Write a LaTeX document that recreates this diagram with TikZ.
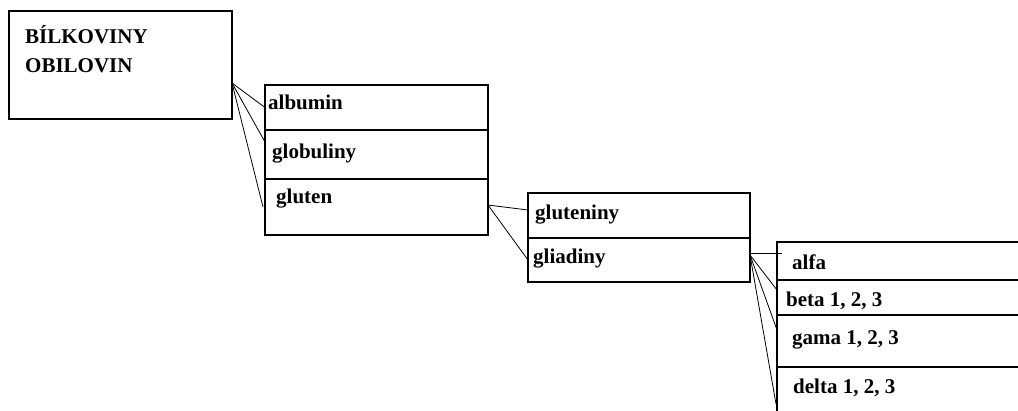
\documentclass[tikz,border=0pt]{standalone}
\usepackage{fontspec}
\setmainfont{Liberation Serif}
\begin{document}
\begin{tikzpicture}[x=1pt,y=-1pt,
  box/.style={draw, line width=1.3pt, inner sep=0pt, outer sep=0pt, anchor=north west},
  lbl/.style={anchor=base west, inner sep=0pt, font=\fontsize{21}{25}\selectfont\bfseries},
  link/.style={line width=0.8pt}]
\useasboundingbox[fill=white] (0,0) rectangle (1018,410);
\clip (0,0) rectangle (1018,410);
% root box
\node[box, minimum width=223pt, minimum height=108pt] (root) at (9,11) {};
\node[lbl] (t1) at (25,43) {BÍLKOVINY};
\node[lbl] (t2) at (25,72) {OBILOVIN};
% second box
\node[box, minimum width=223pt, minimum height=45pt] (alb) at (265,85) {};
\node[box, minimum width=223pt, minimum height=49pt] (glob) at (265,130) {};
\node[box, minimum width=223pt, minimum height=56pt] (glut) at (265,179) {};
\node[lbl] (talb) at (268,109) {albumin};
\node[lbl] (tglob) at (272,158) {globuliny};
\node[lbl] (tglut) at (276,203) {gluten};
% third box
\node[box, minimum width=222pt, minimum height=45pt] (glutn) at (528,193) {};
\node[box, minimum width=222pt, minimum height=44pt] (glia) at (528,238) {};
\node[lbl] (tglutn) at (535,219) {gluteniny};
\node[lbl] (tglia) at (533,263) {gliadiny};
% fourth box
\node[box, minimum width=300pt, minimum height=38pt] (alfa) at (777,242) {};
\node[box, minimum width=300pt, minimum height=35pt] (beta) at (777,280) {};
\node[box, minimum width=300pt, minimum height=52pt] (gama) at (777,315) {};
\node[box, minimum width=300pt, minimum height=80pt] (delta) at (777,367) {};
\node[lbl] (talfa) at (792,269) {alfa};
\node[lbl] (tbeta) at (786,306) {beta 1, 2, 3};
\node[lbl] (tgama) at (792,344) {gama 1, 2, 3};
\node[lbl] (tdelta) at (793,393) {delta 1, 2, 3};
% origins
\coordinate (o1) at ([yshift=-72pt]root.north east);
\coordinate (o2) at ([yshift=2pt]glut.east);
\coordinate (o3) at ([yshift=5pt]glia.east);
% connectors
\draw[link] (o1) -- (alb.west);
\draw[link] (o1) -- ([yshift=-12pt]glob.north west);
\draw[link] (o1) -- ([xshift=-2pt]glut.west);
\draw[link] (o2) -- ([yshift=-17pt]glutn.north west);
\draw[link] (o2) -- (glia.west);
\draw[link] ([yshift=7pt]glia.east) -- ([xshift=5pt,yshift=-11pt]alfa.north west);
\draw[link] (o3) -- ([yshift=-10pt]beta.north west);
\draw[link] (o3) -- ([yshift=-15pt]gama.north west);
\draw[link] (o3) -- ([xshift=-1pt,yshift=-37pt]delta.north west);
\end{tikzpicture}
\end{document}
